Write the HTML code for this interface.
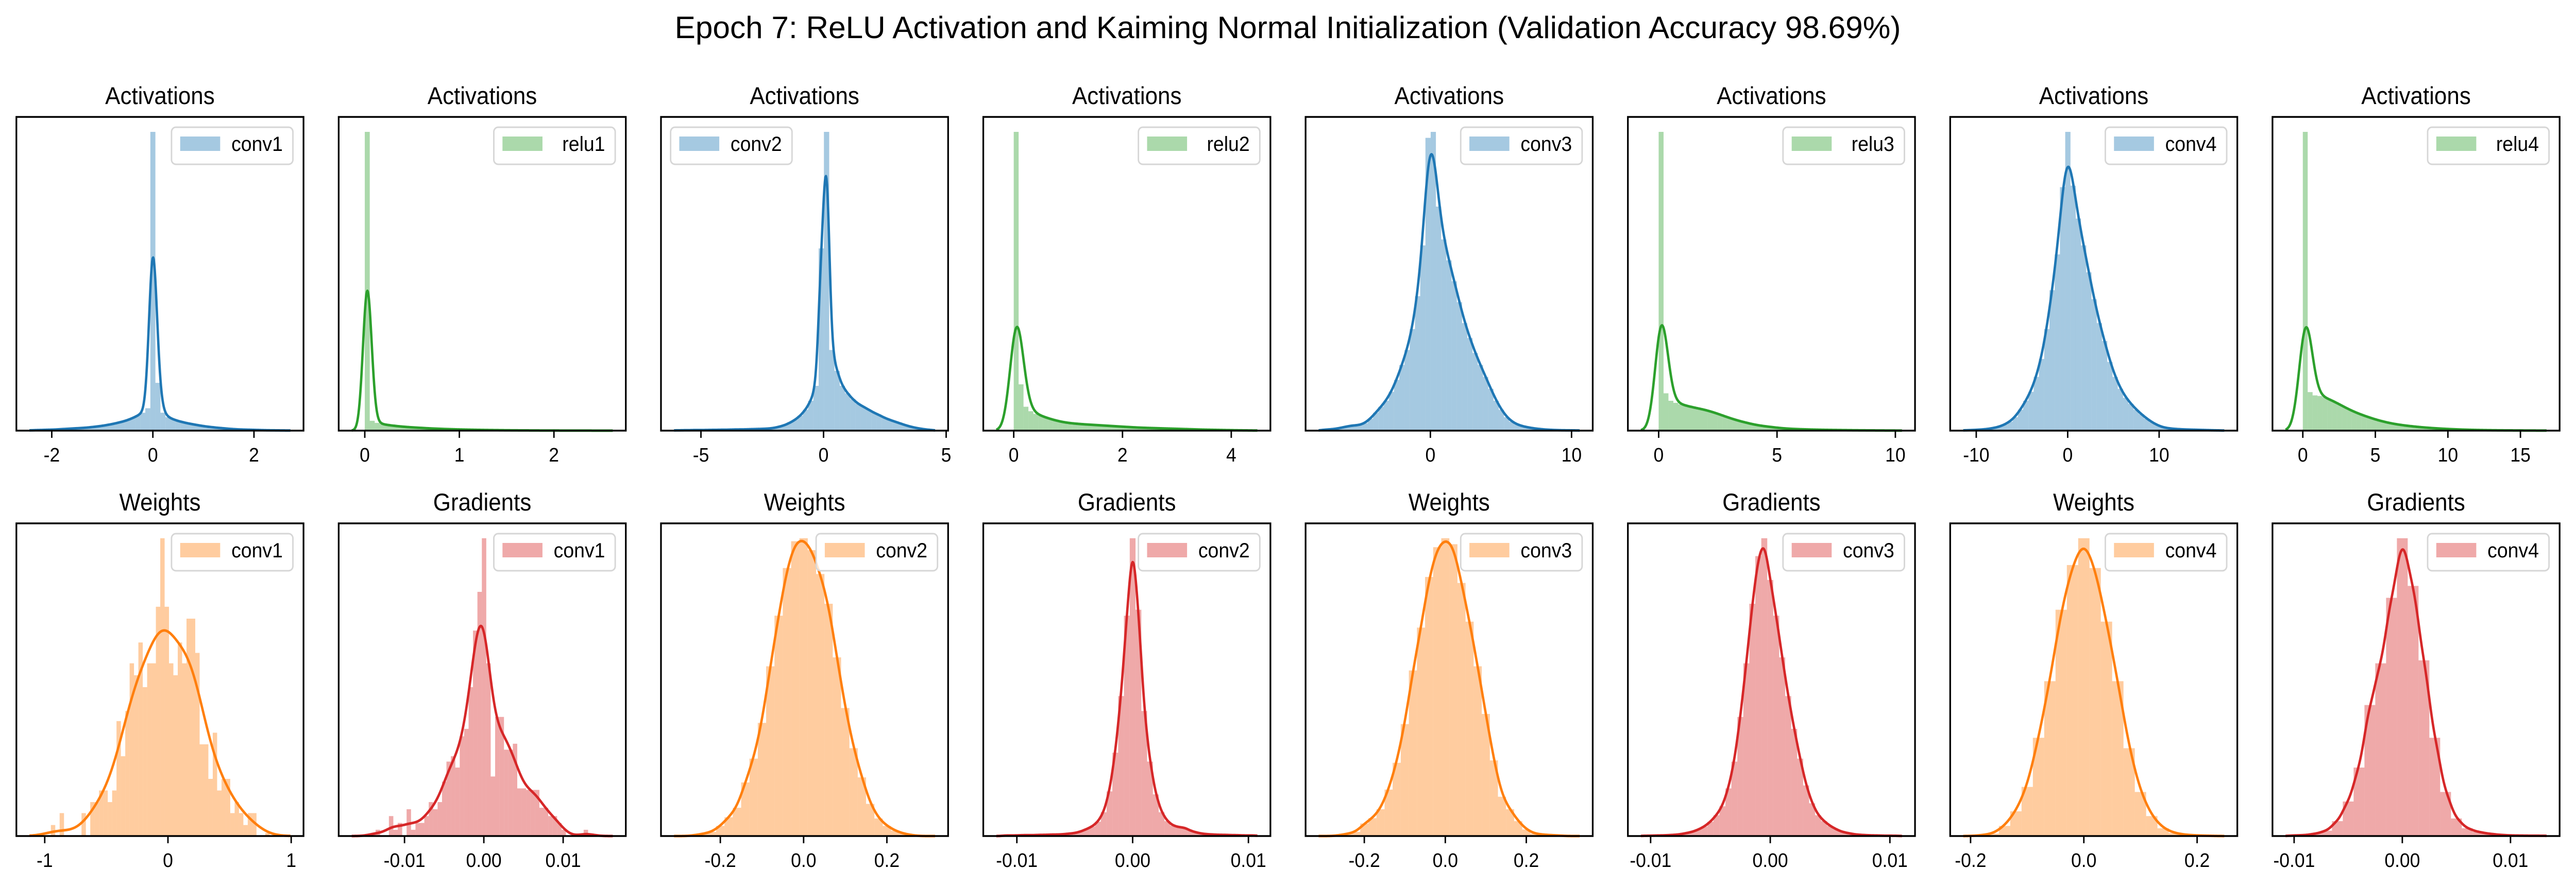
<!DOCTYPE html>
<html><head><meta charset="utf-8">
<style>
html,body{margin:0;padding:0;background:#fff;width:100%;height:100%;overflow:hidden;}
svg{display:block;position:fixed;left:0;top:0;width:100vw;height:100vh;font-family:"Liberation Sans","DejaVu Sans",sans-serif;}
</style></head>
<body>
<svg id="fig" viewBox="0 0 5347 1720" preserveAspectRatio="none" xmlns="http://www.w3.org/2000/svg">
<rect width="5347" height="1720" fill="#ffffff"/>
<text x="2673" y="74" text-anchor="middle" font-size="60" textLength="2545" lengthAdjust="spacingAndGlyphs">Epoch 7: ReLU Activation and Kaiming Normal Initialization (Validation Accuracy 98.69%)</text>
</svg>
<script>
// ---- chart data ----
const panelTitles = ["Activations","Activations","Activations","Activations","Activations","Activations","Activations","Activations",
  "Weights","Gradients","Weights","Gradients","Weights","Gradients","Weights","Gradients"];
const legendLabels = ["conv1","relu1","conv2","relu2","conv3","relu3","conv4","relu4",
  "conv1","conv1","conv2","conv2","conv3","conv3","conv4","conv4"];
const seriesColors = ["#1f77b4","#2ca02c","#1f77b4","#2ca02c","#1f77b4","#2ca02c","#1f77b4","#2ca02c",
  "#ff7f0e","#d62728","#ff7f0e","#d62728","#ff7f0e","#d62728","#ff7f0e","#d62728"];
const legendSide = ["right","right","left","right","right","right","right","right",
  "right","right","right","right","right","right","right","right"];
const xDomains = [[-2.70,2.98],[-0.276,2.76],[-6.63,5.08],[-0.56,4.72],[-8.84,11.5],[-1.30,10.83],[-12.85,18.55],[-2.09,17.7],
  [-1.23,1.10],[-0.0183,0.0179],[-0.3425,0.347],[-0.0129,0.0119],[-0.345,0.364],[-0.0119,0.0121],[-0.236,0.271],[-0.012,0.01454]];
const tickValues = [[-2,0,2],[0,1,2],[-5,0,5],[0,2,4],[0,10],[0,5,10],[-10,0,10],[0,5,10,15],
  [-1,0,1],[-0.01,0,0.01],[-0.2,0,0.2],[-0.01,0,0.01],[-0.2,0,0.2],[-0.01,0,0.01],[-0.2,0,0.2],[-0.01,0,0.01]];
const tickLabels = [["-2","0","2"],["0","1","2"],["-5","0","5"],["0","2","4"],["0","10"],["0","5","10"],["-10","0","10"],["0","5","10","15"],
  ["-1","0","1"],["-0.01","0.00","0.01"],["-0.2","0.0","0.2"],["-0.01","0.00","0.01"],["-0.2","0.0","0.2"],["-0.01","0.00","0.01"],["-0.2","0.0","0.2"],["-0.01","0.00","0.01"]];
const binStarts = [-2.55,0,-6.22,0,-7.77,0,-11.77,0,-0.95,-0.0142,-0.27,-0.01125,-0.27,-0.01075,-0.19,-0.0105];
const binWidths = [0.1,0.0526,0.215,0.09,0.371,0.207,0.575,0.337,0.0355,0.000558,0.02,0.0005,0.02,0.0005,0.02,0.001];
const kdeBandwidths = [0.07,0.043,0.1,0.117,0.3,0.26,0.5,0.44,0.1,0.0009,0.012,0.00025,0.012,0.00028,0.011,0.0004];
const h1 = [0.1,0.1,0.2,0.2,0.3,0.3,0.4,0.5,0.6,0.7,0.8,0.9,1.0,1.2,1.4,1.6,1.9,2.2,2.6,3.0,3.5,4.2,5.0,6.0,7.5,100,16,6,4.5,3.8,3.2,2.8,2.4,2.1,1.8,1.5,1.3,1.1,0.9,0.8,0.6,0.5,0.4,0.35,0.3,0.25,0.2,0.15,0.12,0.1,0.08,0.05,0.05];
const h2 = [100,3.3,2.6,2.2,1.9,1.7,1.5,1.35,1.2,1.1,1.0,0.9,0.8,0.72,0.65,0.58,0.52,0.47,0.42,0.38,0.34,0.3,0.27,0.24,0.21,0.19,0.17,0.15,0.13,0.11,0.1,0.09,0.08,0.07,0.06,0.05,0.045,0.04,0.035,0.03,0.025,0.02,0.02,0.015,0.015,0.01,0.01,0.01,0.005,0.005];
const h3 = [0.1,0.1,0.15,0.15,0.2,0.2,0.2,0.25,0.25,0.3,0.3,0.35,0.4,0.4,0.45,0.5,0.55,0.6,0.7,0.9,1.3,1.8,2.6,3.6,5,7,10,15,61,100,27,20,15,12.5,10.5,9,8,7,6,5.2,4.3,3.6,3,2.4,1.8,1.3,0.9,0.6,0.35,0.2];
const h4 = [100,15.5,8,6.5,5.6,5,4.4,3.9,3.4,3.0,2.7,2.5,2.35,2.2,2.1,2.0,1.9,1.8,1.7,1.6,1.5,1.4,1.3,1.2,1.1,1.0,0.95,0.9,0.85,0.8,0.75,0.7,0.65,0.6,0.55,0.5,0.45,0.4,0.35,0.3,0.28,0.25,0.2,0.18,0.15,0.12,0.1,0.08,0.06,0.05];
const h5 = [0.3,0.4,0.5,0.8,1.2,1.6,1.8,1.8,2.5,4,6,8,10,13,17,22,27,34,45,62,98,100,75,64,57,50,43,36,31,26,22,18,14,10,7,4.5,3,2,1.5,1.1,0.8,0.6,0.4,0.3,0.2,0.15,0.12,0.1,0.08,0.05];
const h6 = [100,12.5,10,9.3,8.8,8.4,8.0,7.6,7.3,7.0,6.5,6,5.4,4.8,4.2,3.7,3.2,2.8,2.4,2.0,1.7,1.5,1.3,1.1,0.9,0.75,0.65,0.55,0.5,0.45,0.4,0.35,0.3,0.28,0.25,0.22,0.2,0.18,0.16,0.14,0.12,0.1,0.1,0.08,0.07,0.06,0.05,0.04,0.03,0.02];
const h7 = [0.1,0.15,0.2,0.3,0.4,0.6,0.9,1.3,2,3,4.5,7,10,13,18,24,34,47,59,81.5,100,82,71,62,53,44,36,30,23,18,14,11,9,7,5.5,4,2.8,1.8,1.1,0.8,0.6,0.5,0.4,0.35,0.3,0.25,0.2,0.15,0.1,0.08];
const h8 = [100,12.9,11.8,11.6,11.2,10.5,9.7,8.8,7.9,7.0,6.3,5.6,5.0,4.5,3.9,3.4,3.0,2.6,2.3,2.0,1.8,1.6,1.4,1.25,1.1,0.95,0.85,0.75,0.65,0.55,0.48,0.42,0.36,0.3,0.26,0.22,0.19,0.16,0.14,0.12,0.1,0.09,0.08,0.07,0.06,0.05,0.04,0.03,0.03,0.02];
const h9 = [3.7,0,7.7,0,0,0,0,7.7,0,11.4,11.4,15.3,15.3,11.4,15.3,38.6,26.8,42,58,54,65,50,58,58,77,100,77,58,54,65,58,73,73,61.5,30.8,30.8,19.2,34.7,15.3,19.2,19.2,7.7,11.4,7.7,3.7,7.7,7.7,0,0,1];
const h10 = [1,2.1,0,0,6.7,2.1,4.4,0,9,2.1,4.4,4.4,6.7,11.4,9,11.4,18.3,25,26.8,23,33.5,36,50,69,82,100,58,20,40,40,29,29,31,16,16,15.5,15.5,15.5,9.5,9.5,6.7,6.7,4.4,2.1,0,0,0,0,2.1,0.5];
const h11 = [0.3,0.8,1.4,3.4,6.3,9.5,18,26,38,57,74,90,99,100,96,88,78,60,43,29.5,19.7,10.8,5.9,3.4,1.8,0.8,0.3];
const h12 = [0.2,0.2,0.2,0.3,0.3,0.3,0.4,0.4,0.5,0.5,0.6,0.8,1.0,1.5,2.3,3.2,4.8,8,15,28,47,74,100,76,42,25,14,8,5,3.5,3,2.8,1.8,1.2,0.8,0.6,0.5,0.4,0.4,0.3,0.3,0.2,0.2,0.2];
const h13 = [0.3,0.8,1.4,4.2,6,9,15.6,24.6,37.6,55.6,70,87,97,100,98,85,72,57,41,25.4,13.2,9,5,2.2,0.8,0.5,0.3,0.2];
const h14 = [0.1,0.1,0.2,0.2,0.3,0.4,0.6,1.0,1.4,2.2,3.2,4.8,7,10,16,25,40,58,78,94,100,86,74,60,47,36,26,17,11,7,5,3.4,2.3,1.4,1.0,0.6,0.4,0.3,0.2,0.2,0.1,0.1,0.1];
const h15 = [0.3,0.8,3.4,8.3,16.5,33,52,76,91,100,90,72,52,29.5,14.8,6.7,2.6,1,0.4,0.2,0.1];
const h16 = [0.2,0.3,0.8,1.8,5,11.6,23,44,58,80,100,84,59,33,14.8,5.9,2.6,1.4,0.8,0.4,0.2,0.15,0.1,0.1];
const binHeights = [h1,h2,h3,h4,h5,h6,h7,h8,h9,h10,h11,h12,h13,h14,h15,h16];

// ---- layout ----
const NS = "http://www.w3.org/2000/svg";
const svg = document.getElementById("fig");
const PW = 596, PL0 = 34, PSTEP = 669;
const rowTop = [227, 1016], rowBot = [836, 1623];

function mk(tag, attrs, parent) {
  const e = document.createElementNS(NS, tag);
  for (const k in attrs) e.setAttribute(k, attrs[k]);
  (parent || svg).appendChild(e);
  return e;
}
function erf(x) {
  const s = x < 0 ? -1 : 1; x = Math.abs(x);
  const t = 1 / (1 + 0.3275911 * x);
  const y = 1 - (((((1.061405429 * t - 1.453152027) * t) + 1.421413741) * t - 0.284496736) * t + 0.254829592) * t * Math.exp(-x * x);
  return s * y;
}
function Phi(z) { return 0.5 * (1 + erf(z / Math.SQRT2)); }

for (let i = 0; i < 16; i++) {
  const row = i < 8 ? 0 : 1, col = i % 8;
  const L = PL0 + col * PSTEP, R = L + PW, T = rowTop[row], B = rowBot[row];
  const [x0, x1] = xDomains[i];
  const sx = v => L + (v - x0) / (x1 - x0) * PW;
  const heights = binHeights[i], bs = binStarts[i], bw = binWidths[i], kb = kdeBandwidths[i];
  const color = seriesColors[i];

  const g = mk("g", {});
  
  

  const span = x1 - x0, rng = span / 1.1;
  const c0 = x0 + 0.05 * rng, c1 = x1 - 0.05 * rng;
  const kde = x => {
    let s = 0;
    for (let k = 0; k < heights.length; k++) {
      const a = bs + k * bw, b = a + bw;
      s += heights[k] * (Phi((b - x) / kb) - Phi((a - x) / kb));
    }
    return s;
  };
  const N = 500, pts = [];
  let kmax = 0;
  for (let j = 0; j <= N; j++) {
    const x = c0 + (c1 - c0) * j / N, y = kde(x);
    pts.push([x, y]); if (y > kmax) kmax = y;
  }
  const ymax = Math.max(Math.max(...heights), kmax) * 1.05;
  const sy = v => B - v / ymax * (B - T);

  const hist = mk("g", {}, g);
  
  
  for (let k = 0; k < heights.length; k++) {
    if (heights[k] <= 0) continue;
    const xa = sx(bs + k * bw), xb = sx(bs + (k + 1) * bw);
    const r = mk("rect", { x: xa, y: sy(heights[k]), width: Math.max(xb - xa, 0.5), height: B - sy(heights[k]), fill: color, "fill-opacity": 0.4 }, hist);
    
    
  }
  const d = pts.map((p, j) => (j ? "L" : "M") + sx(p[0]).toFixed(2) + " " + sy(p[1]).toFixed(2)).join(" ");
  const line = mk("path", { d: d, fill: "none", stroke: color, "stroke-width": 5, "stroke-linejoin": "round" }, g);
  
  

  const fr = mk("rect", { x: L, y: T, width: PW, height: B - T, fill: "none", stroke: "#000", "stroke-width": 3.5 }, g);
  
  

  tickValues[i].forEach((tv, ti) => {
    const tx = sx(tv);
    const tk = mk("line", { x1: tx, y1: B, x2: tx, y2: B + 14, stroke: "#000", "stroke-width": 3 }, g);
    
    
    const tl = mk("text", { x: tx, y: B + 60, "text-anchor": "middle", "font-size": 38 }, g);
    tl.textContent = tickLabels[i][ti];
    
    
  });

  const tt = mk("text", { x: L + PW / 2, y: T - 25, "text-anchor": "middle", "font-size": 47 }, g);
  tt.textContent = panelTitles[i];
  
  

  const lx = legendSide[i] === "right" ? R - 274 : L + 20;
  const lg = mk("g", {}, g);
  
  
  mk("rect", { x: lx, y: T + 20, width: 252, height: 72, rx: 9, fill: "#fff", "fill-opacity": 0.8, stroke: "#d6d6d6", "stroke-width": 3 }, lg);
  const sw = mk("rect", { x: lx + 18, y: T + 38, width: 83, height: 28, fill: color, "fill-opacity": 0.4 }, lg);
  
  
  const lt = mk("text", { x: lx + 231, y: T + 66, "text-anchor": "end", "font-size": 40 }, lg);
  lt.textContent = legendLabels[i];
  
  
}
</script>
</body></html>
